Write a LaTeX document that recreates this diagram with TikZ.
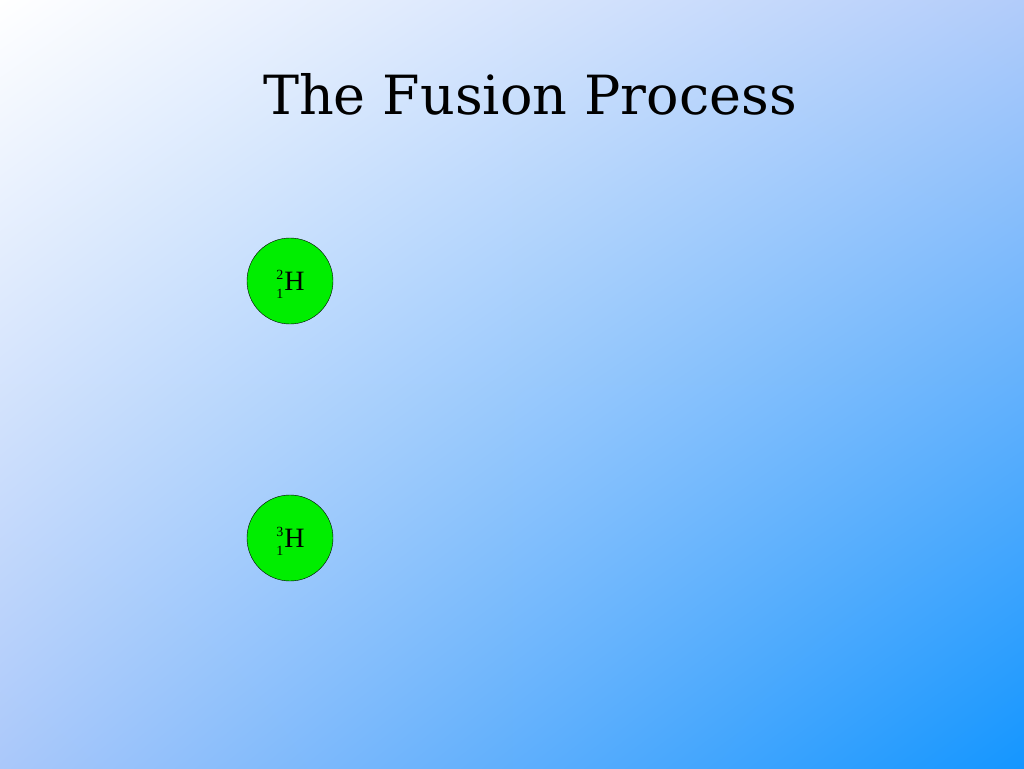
\documentclass[tikz,border=0pt]{standalone}
\usepackage{fontspec}
\usetikzlibrary{shadings}
\setmainfont{Liberation Serif}
\newfontfamily\titlefont{DejaVu Serif}
\definecolor{ur}{RGB}{178,204,250}
\definecolor{ll}{RGB}{170,200,250}
\definecolor{lr}{RGB}{20,150,255}
\definecolor{nuc}{RGB}{0,238,0}
\newcommand{\isotope}[2]{\fontsize{14}{14}\selectfont\raisebox{0pt}[0pt][0pt]{\makebox[0pt][r]{\raisebox{11pt}{#1}}\makebox[0pt][r]{\raisebox{-8pt}{#2}}}\hspace{1pt}\fontsize{28}{30}\selectfont H}
\begin{document}
\begin{tikzpicture}[x=1pt,y=-1pt,
  nucleus/.style={circle,draw=black,fill=nuc,minimum size=86pt,inner sep=0pt,font=\fontsize{28}{30}\selectfont}]
\useasboundingbox (0,0) rectangle (1024,768);
\shade[upper left=white,upper right=ur,lower left=ll,lower right=lr]
  (0,0) rectangle (1024,768);
\node[font=\titlefont\fontsize{54}{58}\selectfont] (title) at (530,94) {The Fusion Process};
\node[nucleus] (h2) at (290,281) {\hspace{8pt}\isotope{2}{1}};
\node[nucleus] (h3) at (290,538) {\hspace{8pt}\isotope{3}{1}};
\end{tikzpicture}
\end{document}
